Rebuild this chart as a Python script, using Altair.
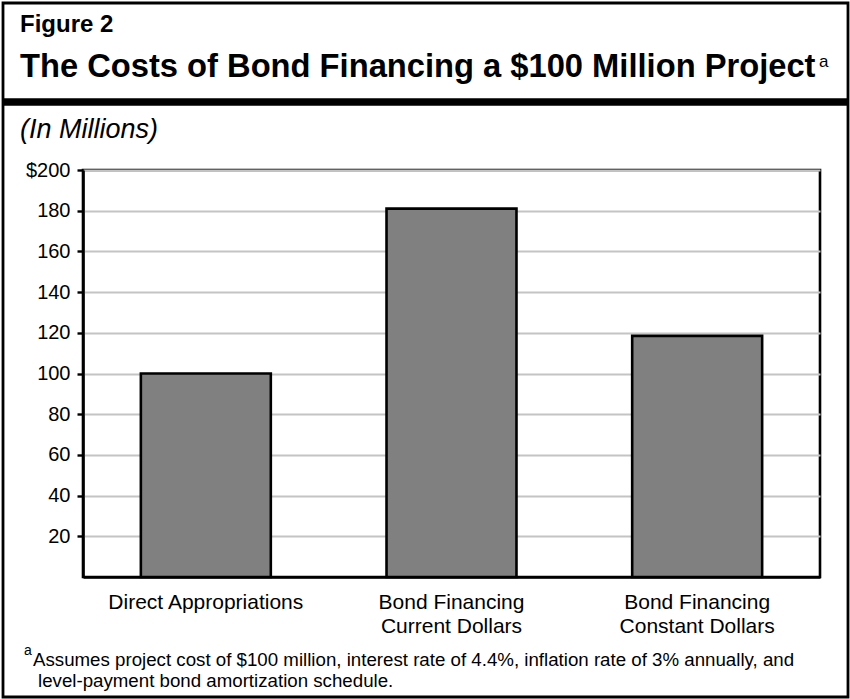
import altair as alt
import pandas as pd

# ---- data ----
categories = ["Direct Appropriations", "Bond Financing|Current Dollars", "Bond Financing|Constant Dollars"]
values = [100, 181, 118.5]
y_ticks = [20, 40, 60, 80, 100, 120, 140, 160, 180, 200]

fig_label = "Figure 2"
title_text = "The Costs of Bond Financing a $100 Million Project"
units_text = "(In Millions)"
foot_1 = "Assumes project cost of $100 million, interest rate of 4.4%, inflation rate of 3% annually, and"
foot_2 = "level-payment bond amortization schedule."

FONT = "Liberation Sans, Arial, Helvetica, sans-serif"

df = pd.DataFrame({"cat": categories, "value": values})

W, H = 737, 407
PAD_L, PAD_T = 83, 170

bars = alt.Chart(df).mark_bar(
    fill="#808080", stroke="black", strokeWidth=2.6
).encode(
    x=alt.X("cat:N", sort=categories, title=None,
            scale=alt.Scale(paddingInner=0.471, paddingOuter=0.2355),
            axis=alt.Axis(labelAngle=0, ticks=False, domain=True, domainColor="black",
                          domainWidth=2.6, labelFont=FONT, labelFontSize=21,
                          labelColor="black", labelPadding=14, labelLineHeight=24,
                          labelLimit=0,
                          labelExpr="split(datum.label, '|')", grid=False)),
    y=alt.Y("value:Q", title=None,
            scale=alt.Scale(domain=[0, 200], nice=False, zero=True),
            axis=alt.Axis(values=y_ticks, grid=True, gridColor="#c4c4c4", gridWidth=2,
                          domainColor="black", domainWidth=2.6,
                          tickColor="black", tickWidth=2.4, tickSize=6,
                          labelFont=FONT, labelFontSize=20, labelColor="black",
                          labelPadding=7,
                          labelExpr="datum.value == 200 ? '$200' : datum.label")),
)

one = alt.Data(values=[{"k": 1}])

frame = alt.Chart(one).mark_rect(fill=None, stroke="black", strokeWidth=2.8).encode(
    x=alt.value(3 - PAD_L), x2=alt.value(848 - PAD_L),
    y=alt.value(3 - PAD_T), y2=alt.value(697 - PAD_T),
)

sep = alt.Chart(one).mark_rule(color="black", strokeWidth=7.5).encode(
    x=alt.value(3 - PAD_L), x2=alt.value(848 - PAD_L),
    y=alt.value(102 - PAD_T),
)

def txt(s, x, y, size, weight="normal", style="normal"):
    return alt.Chart(one).mark_text(
        text=s, align="left", baseline="alphabetic", font=FONT, fontSize=size,
        fontWeight=weight, fontStyle=style, color="black"
    ).encode(x=alt.value(x - PAD_L), y=alt.value(y - PAD_T))

t_fig = txt(fig_label, 20, 32, 24, weight="bold")
t_title = txt(title_text, 20, 77, 32.7, weight="bold")
t_sup = txt("a", 819, 67, 17)
t_units = txt(units_text, 20, 138, 27, style="italic")
t_fa = txt("a", 24, 655, 14)
t_f1 = txt(foot_1, 33, 666, 18.7)
t_f2 = txt(foot_2, 38, 687, 18.7)

chart = alt.layer(
    bars, frame, sep, t_fig, t_title, t_sup, t_units, t_fa, t_f1, t_f2
).properties(
    width=W, height=H,
    autosize=alt.AutoSizeParams(type="none"),
    padding={"left": PAD_L, "top": PAD_T, "right": 850 - PAD_L - W, "bottom": 699 - PAD_T - H},
    background="white",
).configure_view(stroke="black", strokeWidth=2.6)

chart.save("out.html", embed_options={"renderer": "svg", "actions": False})
